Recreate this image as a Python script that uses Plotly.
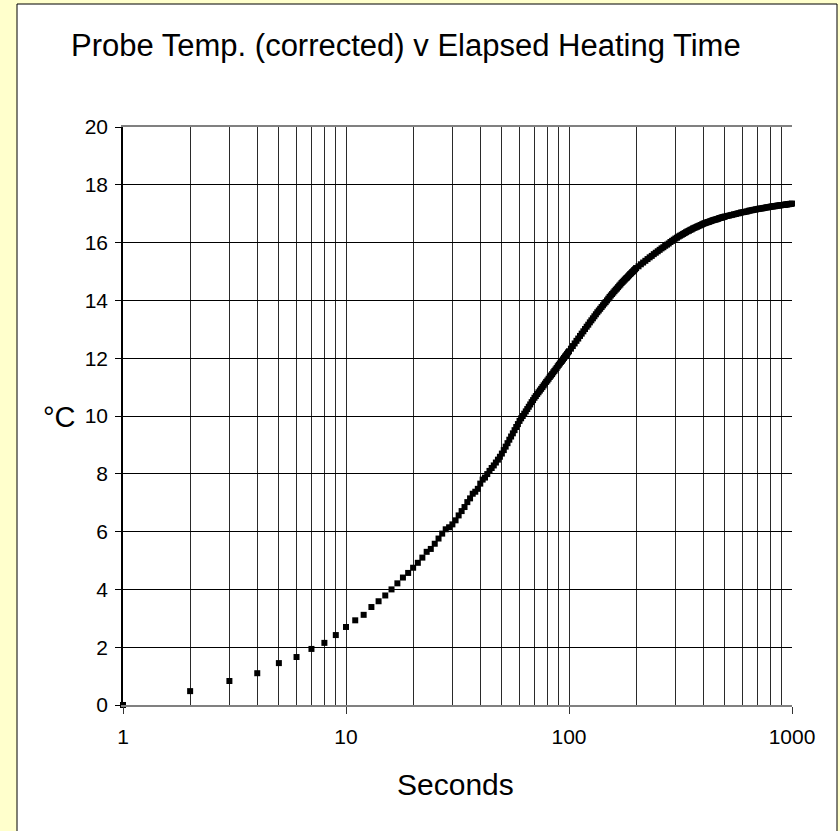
import plotly.graph_objects as go

# Elapsed heating time (s) sample positions
t_seg1 = list(range(1, 101))
t_seg2 = list(range(102, 201, 2))
t_seg3 = list(range(205, 501, 5))
t_seg4 = list(range(510, 1001, 10))

# Probe temperature (corrected), deg C
temp_seg1 = [
    0.00, 0.48, 0.83, 1.10, 1.45, 1.66, 1.94, 2.15, 2.42, 2.70,
    2.93, 3.12, 3.39, 3.59, 3.79, 4.00, 4.21, 4.41, 4.57, 4.75,
    4.92, 5.10, 5.30, 5.40, 5.58, 5.76, 5.93, 6.08, 6.15, 6.25,
    6.39, 6.56, 6.71, 6.85, 7.02, 7.15, 7.31, 7.38, 7.48, 7.66,
    7.80, 7.87, 7.99, 8.10, 8.20, 8.29, 8.39, 8.49, 8.59, 8.70,
    8.82, 8.94, 9.06, 9.18, 9.29, 9.40, 9.51, 9.62, 9.72, 9.83,
    9.92, 10.00, 10.08, 10.16, 10.24, 10.32, 10.40, 10.48, 10.55, 10.63,
    10.69, 10.76, 10.82, 10.88, 10.94, 11.00, 11.06, 11.12, 11.18, 11.23,
    11.29, 11.35, 11.40, 11.45, 11.51, 11.56, 11.61, 11.66, 11.72, 11.77,
    11.82, 11.87, 11.91, 11.96, 12.01, 12.06, 12.10, 12.15, 12.20, 12.24,
]
temp_seg2 = [
    12.33, 12.42, 12.51, 12.60, 12.68, 12.77, 12.85, 12.93, 13.01, 13.09,
    13.16, 13.24, 13.31, 13.38, 13.45, 13.52, 13.59, 13.65, 13.71, 13.77,
    13.83, 13.89, 13.94, 14.00, 14.06, 14.12, 14.17, 14.22, 14.27, 14.32,
    14.37, 14.41, 14.46, 14.51, 14.55, 14.60, 14.64, 14.68, 14.72, 14.76,
    14.79, 14.83, 14.87, 14.91, 14.94, 14.98, 15.01, 15.05, 15.08, 15.12,
]
temp_seg3 = [
    15.18, 15.25, 15.31, 15.37, 15.43, 15.49, 15.54, 15.60, 15.65, 15.70,
    15.75, 15.80, 15.84, 15.89, 15.93, 15.97, 16.02, 16.06, 16.10, 16.14,
    16.17, 16.21, 16.24, 16.27, 16.30, 16.33, 16.36, 16.39, 16.41, 16.44,
    16.46, 16.49, 16.51, 16.53, 16.55, 16.57, 16.59, 16.61, 16.63, 16.65,
    16.67, 16.68, 16.70, 16.71, 16.72, 16.74, 16.75, 16.77, 16.78, 16.79,
    16.80, 16.81, 16.82, 16.84, 16.85, 16.86, 16.87, 16.88, 16.89, 16.90,
]
temp_seg4 = [
    16.92, 16.93, 16.95, 16.96, 16.98, 16.99, 17.01, 17.02, 17.04, 17.05,
    17.06, 17.07, 17.08, 17.10, 17.11, 17.12, 17.13, 17.14, 17.15, 17.16,
    17.17, 17.18, 17.18, 17.19, 17.20, 17.21, 17.22, 17.22, 17.23, 17.24,
    17.25, 17.25, 17.26, 17.26, 17.27, 17.28, 17.28, 17.29, 17.29, 17.30,
    17.30, 17.31, 17.31, 17.32, 17.32, 17.33, 17.33, 17.34, 17.34, 17.35,
]

x_major_ticks = [1, 10, 100, 1000]
x_major_labels = ["1", "10", "100", "1000"]
x_minor_ticks = [2, 3, 4, 5, 6, 7, 8, 9,
                 20, 30, 40, 50, 60, 70, 80, 90,
                 200, 300, 400, 500, 600, 700, 800, 900]
y_ticks = [0, 2, 4, 6, 8, 10, 12, 14, 16, 18, 20]

t_all = t_seg1 + t_seg2 + t_seg3 + t_seg4
temp_all = temp_seg1 + temp_seg2 + temp_seg3 + temp_seg4

FONT = "Liberation Sans, Arial, sans-serif"
W, H = 840, 831
ML, MR, MT, MB = 123, 48, 127, 126
PW, PH = W - ML - MR, H - MT - MB


def px_x(p):
    return (p - ML) / PW


def px_y(p):
    return (H - MB - p) / PH


fig = go.Figure()
fig.add_trace(go.Scatter(
    x=t_all, y=temp_all, mode="markers",
    marker=dict(symbol="square", size=6, color="black", line=dict(width=0)),
    cliponaxis=False, showlegend=False, hoverinfo="x+y",
))

fig.update_layout(
    width=W, height=H,
    margin=dict(l=ML, r=MR, t=MT, b=MB, pad=0),
    paper_bgcolor="#FFFFCC",
    plot_bgcolor="white",
    font=dict(family=FONT, color="black", size=21),
    showlegend=False,
    shapes=[dict(
        type="rect", xref="paper", yref="paper", layer="below",
        x0=px_x(17), x1=px_x(837), y0=px_y(845), y1=px_y(4),
        fillcolor="white", line=dict(color="black", width=1),
    )],
    annotations=[
        dict(text="Probe Temp. (corrected) v Elapsed Heating Time",
             xref="paper", yref="paper", x=px_x(406), y=px_y(46),
             xanchor="center", yanchor="middle", showarrow=False,
             font=dict(size=31, family=FONT)),
        dict(text="Seconds", xref="paper", yref="paper",
             x=px_x(455), y=px_y(784), xanchor="center", yanchor="middle",
             showarrow=False, font=dict(size=30, family=FONT)),
        dict(text="°C", xref="paper", yref="paper",
             x=px_x(59), y=px_y(417), xanchor="center", yanchor="middle",
             showarrow=False, font=dict(size=29, family=FONT)),
    ],
)

fig.update_xaxes(
    type="log", range=[0, 3],
    tickvals=x_major_ticks, ticktext=x_major_labels,
    ticks="outside", ticklen=7, tickcolor="#333", tickwidth=1,
    ticklabelstandoff=5,
    showgrid=True, gridcolor="#2a2a2a", gridwidth=1,
    minor=dict(tickvals=x_minor_ticks, showgrid=True, gridcolor="#2a2a2a",
               gridwidth=1, ticks=""),
    showline=True, linecolor="#808080", linewidth=1.5, mirror=True,
    zeroline=False, tickfont=dict(size=21, family=FONT),
)
fig.update_yaxes(
    range=[0, 20], tickvals=y_ticks,
    ticks="outside", ticklen=6, tickcolor="black", tickwidth=1,
    ticklabelstandoff=3,
    showgrid=True, gridcolor="black", gridwidth=1,
    showline=True, linecolor="black", linewidth=1.5,
    zeroline=False, tickfont=dict(size=21, family=FONT),
)

fig.write_html("out.html")
